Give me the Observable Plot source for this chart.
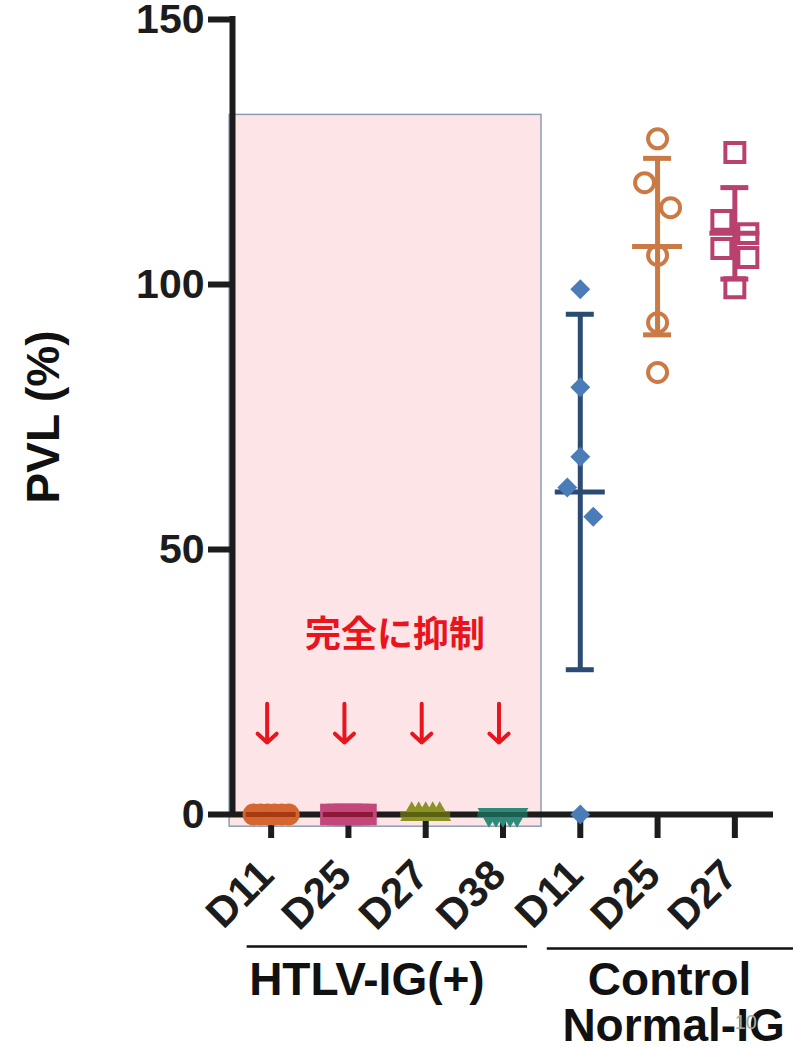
<!DOCTYPE html>
<html>
<head>
<meta charset="utf-8">
<script src="https://cdn.jsdelivr.net/npm/d3@7"></script>
<script src="https://cdn.jsdelivr.net/npm/@observablehq/plot@0.6"></script>
<style>
  html, body { margin: 0; padding: 0; background: #ffffff; }
</style>
</head>
<body>
<div id="chart"></div>
<script>
// ---- data ----
const groups = ["H-D11", "H-D25", "H-D27", "H-D38", "C-D11", "C-D25", "C-D27"];
const tickLabels = ["D11", "D25", "D27", "D38", "D11", "D25", "D27"];
const htlvD11 = [0, 0, 0, 0, 0, 0];
const htlvD25 = [0, 0, 0, 0, 0, 0];
const htlvD27 = [0, 0, 0, 0, 0];
const htlvD38 = [0, 0, 0, 0, 0];
const ctrlD11 = [99.1, 80.6, 67.5, 61.7, 56.2, 0];
const ctrlD25 = [127.5, 119.2, 114.5, 105.5, 92.8, 83.4];
const ctrlD27 = [124.9, 112.1, 109.6, 106.8, 105.1, 99.4];
const yTicks = [0, 50, 100, 150];
const groupTitleHTLV = "HTLV-IG(+)";
const groupTitleCtrl1 = "Control";
const groupTitleCtrl2 = "Normal-IG";
const annotation = "完全に抑制";
const yLabel = "PVL (%)";

const valuesByGroup = {
  "H-D11": htlvD11, "H-D25": htlvD25, "H-D27": htlvD27, "H-D38": htlvD38,
  "C-D11": ctrlD11, "C-D25": ctrlD25, "C-D27": ctrlD27
};

// ---- styles ----
const downTriangle = {
  draw(context, size) {
    const y = -Math.sqrt(size / (3 * Math.sqrt(3)));
    context.moveTo(0, -2 * y);
    context.lineTo(-Math.sqrt(3) * y, y);
    context.lineTo(Math.sqrt(3) * y, y);
    context.closePath();
  }
};
const styleByGroup = {
  "H-D11": {symbol: "circle", r: 11, fill: "#d4672f", stroke: "none", sw: 0, bar: "#a63a12"},
  "H-D25": {symbol: "square", r: 12.2, fill: "#c2487c", stroke: "none", sw: 0, bar: "#8e1838"},
  "H-D27": {symbol: "triangle", r: 8.5, fill: "#8b9226", stroke: "none", sw: 0, bar: "#5b6112"},
  "H-D38": {symbol: downTriangle, r: 8.5, fill: "#2e8b7a", stroke: "none", sw: 0, bar: "#1d5e50"},
  "C-D11": {symbol: "diamond2", r: 9, fill: "#4a7db8", stroke: "none", sw: 0, bar: "#2c4b73"},
  "C-D25": {symbol: "circle", r: 9.5, fill: "none", stroke: "#cc7a45", sw: 4, bar: "#c97a45"},
  "C-D27": {symbol: "square", r: 10.7, fill: "none", stroke: "#b8416f", sw: 4, bar: "#b8416f"}
};

const W = 798, H = 1047, ML = 232, MR = 25, MT = 19, MB = 233;
const unit = (W - ML - MR) / groups.length; // px per category
const idx = k => groups.indexOf(k);

// spread overlapping points horizontally (scatter-dot-plot style), px offsets
function spread(vals, spacing, alt, gap) {
  const order = d3.range(vals.length).sort((a, b) => vals[b] - vals[a]);
  const off = new Array(vals.length).fill(0);
  let cluster = [order[0]];
  const flush = () => {
    const n = cluster.length;
    if (n < 2) return;
    const vs = cluster.map(i => vals[i]);
    if (d3.max(vs) === d3.min(vs)) cluster.forEach((i, j) => off[i] = (j - (n - 1) / 2) * spacing);
    else cluster.forEach((i, j) => off[i] = (j % 2 ? 1 : -1) * alt);
  };
  for (let k = 1; k < order.length; k++) {
    const i = order[k];
    if (vals[cluster[cluster.length - 1]] - vals[i] < gap) cluster.push(i);
    else { flush(); cluster = [i]; }
  }
  flush();
  return off;
}

const points = {};
const stats = [];
for (const g of groups) {
  const vals = valuesByGroup[g];
  const off = spread(vals, 7, 13, 5.6);
  points[g] = vals.map((v, j) => ({x: idx(g) + off[j] / unit, y: v}));
  const mean = d3.mean(vals), sd = d3.deviation(vals) || 0;
  stats.push({g, i: idx(g), mean, sd, color: styleByGroup[g].bar});
}
const caps = stats.filter(d => d.sd > 0).flatMap(d => [d.mean - d.sd, d.mean + d.sd].map(y => ({...d, y})));

const dotMark = g => {
  const s = styleByGroup[g];
  return Plot.dot(points[g], {x: "x", y: "y", symbol: s.symbol, r: s.r, fill: s.fill, stroke: s.stroke, strokeWidth: s.sw});
};

const bold = {fontWeight: "bold", fontFamily: "'Liberation Sans', Arial, Helvetica, sans-serif"};

const chart = Plot.plot({
  width: W, height: H,
  marginLeft: ML, marginRight: MR, marginTop: MT, marginBottom: MB,
  x: {type: "linear", domain: [-0.5, groups.length - 0.5]},
  y: {domain: [0, 150]},
  style: {background: "#ffffff", color: "#1c1c1c", fontFamily: "'Liberation Sans', Arial, sans-serif", overflow: "visible"},
  marks: [
    // pink highlight region over HTLV-IG(+) groups
    Plot.rect([0], {x1: idx("H-D11") - 41.5 / unit, x2: idx("H-D38") + 38.5 / unit, y1: -2.3, y2: 132,
      fill: "#fde5e7", stroke: "#8c9bb5", strokeWidth: 1.5}),
    // axes
    Plot.ruleY([0], {strokeWidth: 6, stroke: "#1c1c1c"}),
    Plot.ruleX([-0.5], {y1: 0, y2: 150, strokeWidth: 6, stroke: "#1c1c1c", strokeLinecap: "square"}),
    Plot.axisY({ticks: yTicks, tickSize: 24, tickPadding: 4, fontSize: 41, ...bold, strokeWidth: 6, label: null}),
    Plot.axisX({ticks: d3.range(groups.length), tickSize: 24, tickFormat: () => "", strokeWidth: 6, label: null}),
    // HTLV group markers
    dotMark("H-D11"), dotMark("H-D25"), dotMark("H-D27"), dotMark("H-D38"),
    // error bars: mean ± SD
    Plot.ruleX(stats.filter(d => d.sd > 0), {x: "i", y1: d => d.mean - d.sd, y2: d => d.mean + d.sd, stroke: "color", strokeWidth: 5}),
    Plot.ruleY(caps, {y: "y", x1: d => d.i - 14 / unit, x2: d => d.i + 14 / unit, stroke: "color", strokeWidth: 5}),
    Plot.ruleY(stats, {y: "mean", x1: d => d.i - 25 / unit, x2: d => d.i + 25 / unit, stroke: "color", strokeWidth: 5}),
    // control markers
    dotMark("C-D11"), dotMark("C-D25"), dotMark("C-D27"),
    // x tick labels
    Plot.text(groups.map((g, i) => ({i, label: tickLabels[i]})), {x: "i", text: "label", frameAnchor: "bottom",
      rotate: -45, textAnchor: "end", lineAnchor: "bottom", dx: 5, dy: 63, fontSize: 42, ...bold}),
    // group brackets and titles
    Plot.ruleY([0], {x1: idx("H-D11") - 24 / unit, x2: idx("H-D38") + 24.5 / unit, dy: 132, strokeWidth: 2.5, stroke: "#111"}),
    Plot.ruleY([0], {x1: idx("C-D11") - 33 / unit, x2: idx("C-D27") + 58.6 / unit, dy: 134, strokeWidth: 2.5, stroke: "#111"}),
    Plot.text([groupTitleHTLV], {x: idx("H-D11"), frameAnchor: "bottom", textAnchor: "start", lineAnchor: "bottom",
      dx: -22, dy: 180, fontSize: 46, ...bold, fill: "#111"}),
    Plot.text([groupTitleCtrl1], {x: idx("C-D25"), frameAnchor: "bottom", textAnchor: "middle", lineAnchor: "bottom",
      dx: 12, dy: 180, fontSize: 46, ...bold, fill: "#111"}),
    Plot.text([groupTitleCtrl2], {x: idx("C-D25"), frameAnchor: "bottom", textAnchor: "middle", lineAnchor: "bottom",
      dx: 16, dy: 226, fontSize: 46, ...bold, fill: "#111"}),
    Plot.text(["10"], {x: idx("C-D27"), frameAnchor: "bottom", textAnchor: "middle", lineAnchor: "bottom",
      dx: 11, dy: 214, fontSize: 20, fill: "#a8a8a8"}),
    // annotation
    Plot.text([annotation], {x: (idx("H-D25") + idx("H-D27")) / 2, y: 33.8, dx: 8, fontSize: 36, fontWeight: "bold",
      fontFamily: "'Noto Sans CJK JP', sans-serif", fill: "#e8141e"}),
    Plot.arrow(groups.slice(0, 4), {x1: g => idx(g), x2: g => idx(g), y1: 20.9, y2: 13.6, dx: -4,
      stroke: "#e8141e", strokeWidth: 4, headLength: 16, headAngle: 95}),
    // y label
    Plot.text([yLabel], {frameAnchor: "left", textAnchor: "middle", rotate: -90, dx: -188, fontSize: 46, ...bold, fill: "#111"})
  ]
});
document.getElementById("chart").appendChild(chart);
</script>
</body>
</html>
